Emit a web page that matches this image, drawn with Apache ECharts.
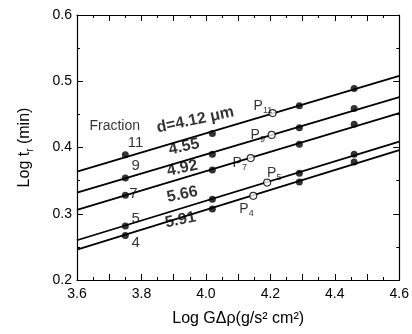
<!DOCTYPE html>
<html><head><meta charset="utf-8">
<script src="https://cdn.jsdelivr.net/npm/echarts@6/dist/echarts.min.js"></script>
<style>html,body{margin:0;padding:0;background:#fff}#c{width:412px;height:334px}</style>
</head><body><div id="c"></div>
<script>
// Fractions (top to bottom)
const fractions = ['11', '9', '7', '5', '4'];
const diameters = ['d=4.12 μm', '4.55', '4.92', '5.66', '5.91'];
// measured x positions (Log GΔρ)
const xFilled = [3.75, 4.02, 4.29, 4.46];
// filled-point y values per fraction
const yFilled = [
  [0.389, 0.421, 0.463, 0.489],
  [0.354, 0.390, 0.430, 0.459],
  [0.328, 0.366, 0.405, 0.435],
  [0.2815, 0.322, 0.361, 0.390],
  [0.267, 0.307, 0.348, 0.378]
];
// open points P
const pNames = ['11', '9', '7', '5', '4'];
const pX = [4.207, 4.204, 4.139, 4.190, 4.147];
const pY = [0.452, 0.419, 0.384, 0.347, 0.327];
// fitted line end values at x=3.6 and x=4.6
const lineX = [3.6, 4.6];
const lineY = [
  [0.3635, 0.508],
  [0.332, 0.476],
  [0.306, 0.452],
  [0.260, 0.409],
  [0.246, 0.396]
];
// label anchor positions (data coords)
const fracLabelPos = [[3.782, 0.407], [3.782, 0.3726], [3.775, 0.3305], [3.782, 0.293], [3.782, 0.2564]];
const diamLabelPos = [[3.967, 0.4415], [3.932, 0.401], [3.927, 0.3686], [3.927, 0.329], [3.921, 0.2906]];
const pLabelPos = [[4.177, 0.4627], [4.161, 0.419], [4.105, 0.376], [4.212, 0.361], [4.126, 0.307]];
const fractionTitlePos = [3.717, 0.4325];
const xTicks = [3.6, 3.8, 4.0, 4.2, 4.4, 4.6];
const yTicks = [0.2, 0.3, 0.4, 0.5, 0.6];

const FONT = 'Liberation Sans';
const series = [];
lineY.forEach((ly, i) => {
  series.push({type: 'line', data: [[lineX[0], ly[0]], [lineX[1], ly[1]]], symbol: 'none',
    lineStyle: {color: '#000', width: 1.8}, z: 2, silent: true});
  series.push({type: 'scatter', data: xFilled.map((x, j) => [x, yFilled[i][j]]), symbolSize: 7,
    itemStyle: {color: '#000'}, z: 3});
  series.push({type: 'scatter', data: [[pX[i], pY[i]]], symbolSize: 7,
    itemStyle: {color: '#fff', borderColor: '#000', borderWidth: 1.2}, z: 4});
});
const txt = {color: '#000', fontFamily: FONT};
series.push({type: 'scatter', symbolSize: 0, z: 5,
  data: [{value: fractionTitlePos, label: {formatter: 'Fraction', fontSize: 14}}]
    .concat(fracLabelPos.map((p, i) => ({value: p, label: {formatter: fractions[i], fontSize: 15}})))
    .concat(diamLabelPos.map((p, i) => ({value: p, label: {formatter: diameters[i], fontSize: 16, fontWeight: 'bold', rotate: 12}})))
    .concat(pLabelPos.map((p, i) => ({value: p, label: {formatter: '{a|P}{s|' + pNames[i] + '}'}}))),
  label: {show: true, position: 'inside', ...txt,
    rich: {a: {fontSize: 14, fontFamily: FONT, color: '#000'}, s: {fontSize: 9, fontFamily: FONT, color: '#000', verticalAlign: 'bottom', padding: [9, 0, 0, 0]}}}
});

const axisCommon = {
  axisLine: {show: true, lineStyle: {color: '#000', width: 1.2}},
  axisTick: {show: true, inside: true, length: 6, lineStyle: {color: '#000'}},
  minorTick: {show: true, splitNumber: 2, length: 3, lineStyle: {color: '#000'}},
  splitLine: {show: false}
};
const chart = echarts.init(document.getElementById('c'));
chart.setOption({
  animation: false,
  backgroundColor: '#fff',
  grid: {left: 77, right: 9, top: 15, bottom: 54},
  xAxis: [
    {type: 'value', min: 3.6, max: 4.6, interval: 0.1, position: 'bottom', ...axisCommon,
      axisLabel: {color: '#000', fontFamily: FONT, fontSize: 14, margin: 7,
        formatter: v => { const r = Math.round(v * 10) / 10; return xTicks.some(t => Math.abs(t - r) < 1e-6) ? r.toFixed(1) : ''; }},
      name: 'Log GΔρ(g/s² cm²)', nameLocation: 'middle', nameGap: 31,
      nameTextStyle: {color: '#000', fontFamily: FONT, fontSize: 16}},
    {type: 'value', min: 3.6, max: 4.6, interval: 0.1, position: 'top', ...axisCommon, axisLabel: {show: false}}
  ],
  yAxis: [
    {type: 'value', min: 0.2, max: 0.6, interval: 0.1, position: 'left', ...axisCommon,
      axisLabel: {color: '#000', fontFamily: FONT, fontSize: 14, margin: 5,
        formatter: v => { const r = Math.round(v * 10) / 10; return yTicks.some(t => Math.abs(t - r) < 1e-6) ? r.toFixed(1) : ''; }},
      name: 'Log t{s|r} (min)', nameLocation: 'middle', nameGap: 42,
      nameTextStyle: {color: '#000', fontFamily: FONT, fontSize: 16,
        rich: {s: {fontSize: 10, fontFamily: FONT, color: '#000', verticalAlign: 'bottom', padding: [10, 0, 0, 0]}}}},
    {type: 'value', min: 0.2, max: 0.6, interval: 0.1, position: 'right', ...axisCommon, axisLabel: {show: false}}
  ],
  series: series
});
</script></body></html>
